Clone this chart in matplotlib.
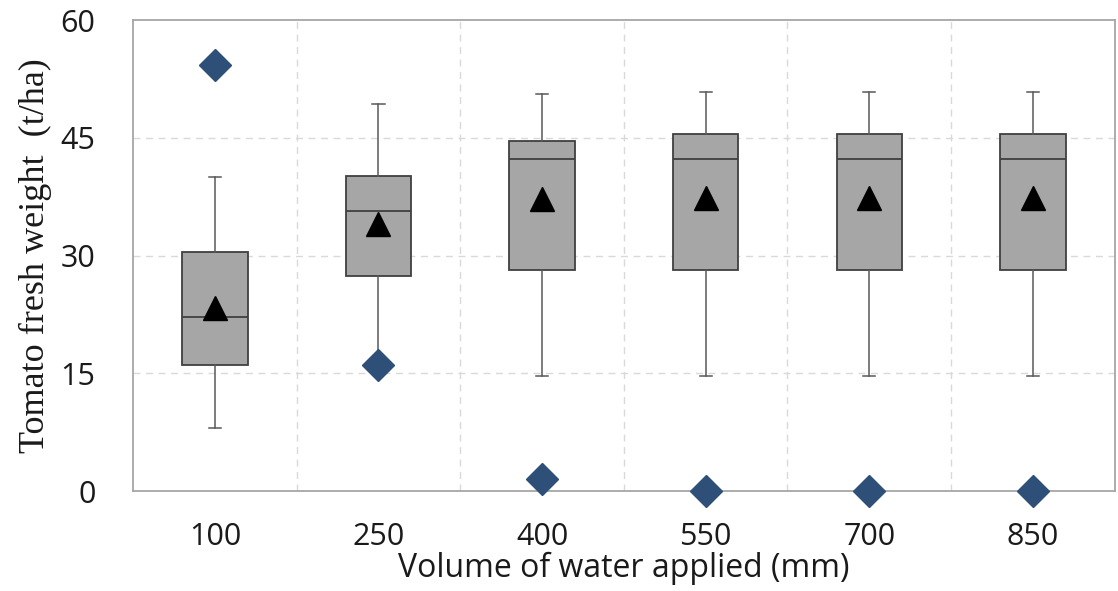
"""
Box plot of tomato fresh weight vs. volume of water applied
"""

import matplotlib
matplotlib.use("Agg")
import matplotlib.pyplot as plt

# Values (t/ha)
volumes = ["100", "250", "400", "550", "700", "850"]
whisker_low = [8.1, 16.05, 14.65, 14.65, 14.65, 14.65]
q1 = [16.05, 27.4, 28.15, 28.15, 28.15, 28.15]
median = [22.2, 35.7, 42.3, 42.3, 42.3, 42.3]
q3 = [30.4, 40.2, 44.6, 45.5, 45.5, 45.5]
whisker_high = [40.0, 49.3, 50.6, 50.9, 50.9, 50.9]
mean = [23.3, 34.0, 37.2, 37.4, 37.4, 37.4]
outliers = [54.3, 16.05, 1.5, 0.0, 0.0, 0.0]
y_ticks = [0, 15, 30, 45, 60]

TICK_FONT = ["Open Sans", "DejaVu Sans"]
SERIF_FONT = ["Liberation Serif", "DejaVu Serif"]

stats = []
for i, name in enumerate(volumes):
    stats.append({
        "label": name,
        "whislo": whisker_low[i],
        "q1": q1[i],
        "med": median[i],
        "q3": q3[i],
        "whishi": whisker_high[i],
        "mean": mean[i],
        "fliers": [],
    })

fig = plt.figure(figsize=(11.18, 5.91), dpi=100)
ax = fig.add_axes([0.119, 0.169, 0.878, 0.797])

positions = list(range(len(volumes)))
ax.bxp(stats, positions=positions, widths=0.4, capwidths=0.075,
       showmeans=True, showfliers=False, patch_artist=True,
       boxprops=dict(facecolor="#A6A6A6", edgecolor="#404040", linewidth=1.3),
       medianprops=dict(color="#404040", linewidth=1.3),
       whiskerprops=dict(color="#595959", linewidth=1.1),
       capprops=dict(color="#595959", linewidth=1.1),
       meanprops=dict(marker="^", markerfacecolor="black", markeredgecolor="black",
                      markersize=17))

# outlier diamonds
ax.plot(positions, outliers, linestyle="none", marker="D", markersize=16,
        color="#2E5078", zorder=5, clip_on=False)

ax.set_xlim(-0.5, len(volumes) - 0.5)
ax.set_ylim(0, 60)
ax.set_yticks(y_ticks)
ax.set_xticks(positions)
ax.set_xticklabels(volumes)

# dashed grid: horizontal at y ticks, vertical between categories
for y in y_ticks[1:-1]:
    ax.axhline(y, color="#D9D9D9", linestyle=(0, (5, 4)), linewidth=1, zorder=0)
for i in range(len(volumes) - 1):
    ax.axvline(i + 0.5, color="#D9D9D9", linestyle=(0, (5, 4)), linewidth=1, zorder=0)

for side in ["left", "right", "top", "bottom"]:
    ax.spines[side].set_color("#A6A6A6")
    ax.spines[side].set_linewidth(1.3)

ax.tick_params(axis="both", length=0)
ax.tick_params(axis="y", pad=27)
ax.tick_params(axis="x", pad=22)
for lbl in ax.get_xticklabels() + ax.get_yticklabels():
    lbl.set_fontfamily(TICK_FONT)
    lbl.set_fontsize(22)
    lbl.set_color("#1a1a1a")

ax.set_xlabel("Volume of water applied (mm)", family=TICK_FONT, fontsize=23,
              labelpad=0, color="#1a1a1a")
ax.set_ylabel("Tomato fresh weight  (t/ha)", family=SERIF_FONT, fontsize=26,
              labelpad=6, color="#1a1a1a")

fig.savefig("out.png", dpi=100)
